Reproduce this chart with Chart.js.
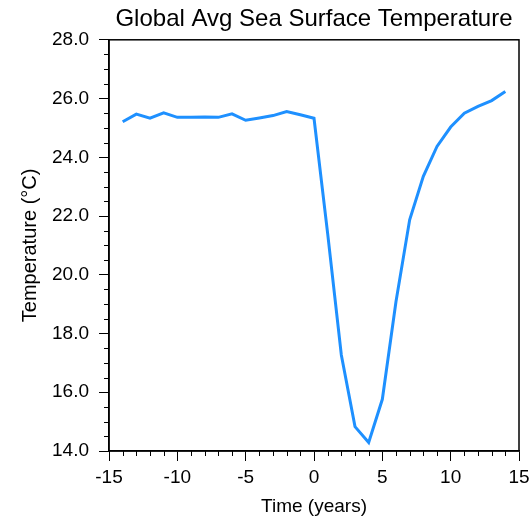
<!DOCTYPE html>
<html>
<head>
<meta charset="utf-8">
<script src="https://cdn.jsdelivr.net/npm/chart.js@4/dist/chart.umd.min.js"></script>
<style>
  html, body { margin: 0; padding: 0; background: #fff; }
  #wrap { width: 530px; height: 518px; }
</style>
</head>
<body>
<div id="wrap"><canvas id="chart"></canvas></div>
<script>
const years = [-14, -13, -12, -11, -10, -9, -8, -7, -6, -5, -4, -3, -2, -1, 0,
  1, 2, 3, 4, 5, 6, 7, 8, 9, 10, 11, 12, 13, 14];
const sst = [25.21, 25.47, 25.33, 25.51, 25.36, 25.36, 25.37, 25.36, 25.48, 25.26, 25.34, 25.42, 25.56, 25.45, 25.33,
  21.4, 17.27, 14.83, 14.29, 15.76, 19.09, 21.87, 23.35, 24.37, 25.03, 25.5, 25.73, 25.93, 26.24];
const xTicks = [-15, -10, -5, 0, 5, 10, 15];
const yTicks = [14, 16, 18, 20, 22, 24, 26, 28];

const font = 'Liberation Sans, Arial, Helvetica, sans-serif';

// box on top/right plus the small minor ticks on the left and bottom axes
const frame = {
  id: 'frame',
  afterDraw(chart) {
    const { ctx, chartArea: a, scales: { x, y } } = chart;
    ctx.save();
    ctx.strokeStyle = '#000';
    ctx.lineWidth = 1.5;
    ctx.strokeRect(a.left, a.top, a.right - a.left, a.bottom - a.top);
    ctx.lineWidth = 1;
    ctx.beginPath();
    for (let v = -15; v <= 15; v++) {
      if (v % 5 === 0) continue;
      const px = Math.round(x.getPixelForValue(v)) + 0.5;
      ctx.moveTo(px, a.bottom);
      ctx.lineTo(px, a.bottom + 5);
    }
    for (let v = 14; v <= 28; v += 0.5) {
      if (v % 2 === 0) continue;
      const py = Math.round(y.getPixelForValue(v)) + 0.5;
      ctx.moveTo(a.left, py);
      ctx.lineTo(a.left - 5, py);
    }
    ctx.stroke();
    ctx.restore();
  }
};

new Chart(document.getElementById('chart'), {
  type: 'line',
  data: {
    datasets: [{
      data: years.map((t, i) => ({ x: t, y: sst[i] })),
      borderColor: 'rgb(30, 144, 255)',
      borderWidth: 3,
      pointRadius: 0,
      tension: 0,
      fill: false,
    }]
  },
  options: {
    responsive: true,
    maintainAspectRatio: false,
    animation: false,
    layout: { padding: { left: 0, right: 11, top: 0, bottom: 0 } },
    plugins: {
      legend: { display: false },
      tooltip: { enabled: false },
      title: {
        display: true,
        fullSize: false,
        text: 'Global Avg Sea Surface Temperature',
        color: '#000',
        font: { family: font, size: 24, weight: 'normal', lineHeight: 1.2 },
        padding: { top: 5, bottom: 6 },
      },
    },
    scales: {
      x: {
        type: 'linear',
        min: -15,
        max: 15,
        afterBuildTicks: s => { s.ticks = xTicks.map(v => ({ value: v })); },
        afterFit: s => { s.height = 67; s.paddingLeft = 0; s.paddingRight = 0; },
        ticks: { color: '#000', font: { family: font, size: 19 }, padding: 5, maxRotation: 0 },
        grid: { drawOnChartArea: false, drawTicks: true, tickLength: 10, color: '#000', lineWidth: 1 },
        border: { display: true, color: '#000', width: 1.5 },
        title: {
          display: true,
          text: 'Time (years)',
          color: '#000',
          font: { family: font, size: 19 },
          padding: { top: 0, bottom: 0 },
        },
      },
      y: {
        type: 'linear',
        min: 14,
        max: 28,
        afterBuildTicks: s => { s.ticks = yTicks.map(v => ({ value: v })); },
        afterFit: s => { s.width = 109; s.paddingTop = 0; s.paddingBottom = 0; },
        ticks: { color: '#000', font: { family: font, size: 19 }, padding: 10, callback: v => v.toFixed(1) },
        grid: { drawOnChartArea: false, drawTicks: true, tickLength: 10, color: '#000', lineWidth: 1 },
        border: { display: true, color: '#000', width: 1.5 },
        title: {
          display: true,
          text: 'Temperature (°C)',
          color: '#000',
          font: { family: font, size: 20 },
          padding: { top: 18, bottom: 0 },
        },
      },
    },
  },
  plugins: [frame],
});
</script>
</body>
</html>
